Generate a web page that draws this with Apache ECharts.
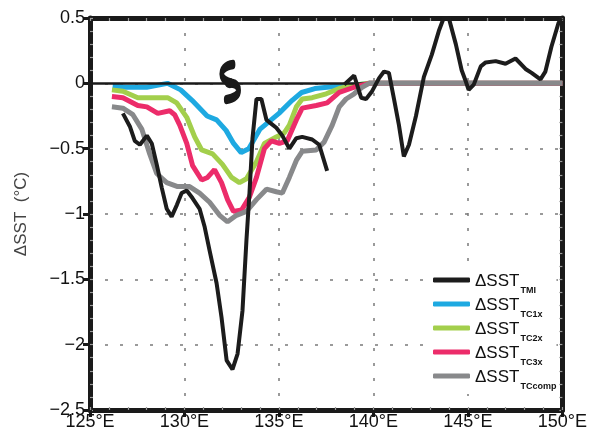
<!DOCTYPE html>
<html>
<head>
<meta charset="utf-8">
<script src="https://cdn.jsdelivr.net/npm/echarts@6/dist/echarts.min.js"></script>
<style>
html,body{margin:0;padding:0;background:#fff;}
#c{width:590px;height:434px;}
</style>
</head>
<body>
<div id="c"></div>
<script>
// ---- data (longitude °E, ΔSST °C) ----
var xTicks = [125, 130, 135, 140, 145, 150];
var yTicks = [-2.5, -2, -1.5, -1, -0.5, 0, 0.5];
var seriesNames = ['TMI', 'TC1x', 'TC2x', 'TC3x', 'TCcomp'];

var tmiLon = [126.74,127.11,127.37,127.64,128.01,128.27,128.53,128.8,129.06,129.32,129.6,129.85,130.12,130.43,130.8,131.07,131.33,131.7,131.96,132.23,132.54,132.81,133.07,133.28,133.44,133.6,133.81,134.07,134.34,134.6,134.86,135.18,135.55,135.92,136.23,136.76,137.13,137.55,
  138.0,
  138.45,138.98,139.35,139.61,139.93,140.3,140.56,140.82,141.09,141.35,141.61,141.88,142.25,142.67,143.09,143.46,143.72,143.99,144.36,144.67,144.9,145.04,145.31,145.68,145.94,146.47,146.99,147.52,148.05,148.37,148.84,149.1,149.42,149.79,149.95];
var tmiVal = [-0.23,-0.33,-0.44,-0.47,-0.40,-0.46,-0.62,-0.80,-0.96,-1.02,-0.93,-0.84,-0.82,-0.88,-0.96,-1.10,-1.28,-1.53,-1.79,-2.12,-2.19,-2.07,-1.74,-1.20,-0.84,-0.42,-0.12,-0.12,-0.28,-0.31,-0.34,-0.40,-0.50,-0.42,-0.41,-0.43,-0.47,-0.67,
  null,
  -0.01,0.06,-0.11,-0.12,-0.06,0.04,0.09,0.08,-0.12,-0.32,-0.56,-0.47,-0.25,0.05,0.22,0.40,0.50,0.50,0.30,0.10,0.01,-0.05,-0.01,0.13,0.16,0.17,0.15,0.19,0.11,0.08,0.03,0.09,0.28,0.46,0.50];

var tc1Lon = [126.2,126.9,128.0,129.1,129.8,130.4,131.2,131.7,132.2,132.6,133.0,133.4,134.0,135.0,135.7,136.2,136.9,138.2,139.2,139.8,150];
var tc1Val = [-0.02,-0.03,-0.03,0.0,-0.05,-0.13,-0.25,-0.28,-0.36,-0.46,-0.53,-0.50,-0.35,-0.23,-0.13,-0.07,-0.04,-0.02,-0.01,0,0];

var tc2Lon = [126.16,126.74,127.53,128.32,129.11,129.59,130.12,130.54,130.91,131.49,132.01,132.49,132.91,133.28,133.81,134.23,134.86,135.28,135.55,135.92,136.23,136.76,137.5,138.19,138.98,139.77,150];
var tc2Val = [-0.05,-0.06,-0.11,-0.11,-0.11,-0.15,-0.26,-0.41,-0.51,-0.54,-0.62,-0.72,-0.76,-0.73,-0.60,-0.46,-0.41,-0.38,-0.32,-0.18,-0.12,-0.11,-0.08,-0.04,-0.015,0,0];

var tc3Lon = [126.16,126.74,127.53,128.01,128.59,129.22,129.48,129.75,130.12,130.43,130.91,131.22,131.59,131.96,132.28,132.59,133.02,133.44,133.81,134.23,134.6,135.02,135.44,135.92,136.23,136.97,137.55,138.19,138.98,139.77,150];
var tc3Val = [-0.10,-0.11,-0.17,-0.18,-0.23,-0.21,-0.24,-0.32,-0.46,-0.63,-0.74,-0.72,-0.66,-0.76,-0.89,-0.98,-0.97,-0.87,-0.72,-0.50,-0.44,-0.46,-0.44,-0.28,-0.19,-0.17,-0.15,-0.07,-0.03,0,0];

var tccLon = [126.16,126.74,127.27,127.74,128.16,128.53,129.06,129.64,130.27,130.8,131.33,131.86,132.28,132.75,133.28,133.81,134.34,134.86,135.18,135.55,135.92,136.23,136.97,137.39,137.82,138.19,138.55,138.98,139.4,139.77,150];
var tccVal = [-0.18,-0.19,-0.24,-0.35,-0.54,-0.69,-0.76,-0.79,-0.79,-0.84,-0.91,-1.01,-1.06,-1.01,-0.98,-0.89,-0.81,-0.83,-0.84,-0.72,-0.59,-0.52,-0.51,-0.45,-0.32,-0.18,-0.12,-0.08,-0.03,0,0];

var stormLon = 132.42, stormVal = 0.01;

// ---- build ----
function pairs(lon, val) {
  return lon.map(function (x, i) { return val[i] === null ? [x, '-'] : [x, val[i]]; });
}
var colors = {TMI:'#1c1c1c', TC1x:'#1ea9e1', TC2x:'#a3cf4c', TC3x:'#ec2c6a', TCcomp:'#88898b'};
var FONT = 'Liberation Sans';
var AX = '#1a1a1a';

function minorAxis(pos, min, max, interval, showLine) {
  return {
    type: 'value', position: pos, min: min, max: max, interval: interval,
    axisLine: {show: showLine, onZero: false, lineStyle: {color: AX, width: 5}},
    axisTick: {show: true, inside: true, length: 3, lineStyle: {color: '#9a9a9a', width: 1.2}},
    axisLabel: {show: false}, splitLine: {show: false}
  };
}

var chart = echarts.init(document.getElementById('c'), null, {renderer: 'canvas'});
var option = {
  animation: false,
  backgroundColor: '#fff',
  grid: {left: 90, right: 26, top: 18, bottom: 24, containLabel: false},
  legend: {
    data: seriesNames, orient: 'vertical', left: 429, top: 270,
    itemWidth: 37, itemHeight: 5, itemGap: 2, icon: 'roundRect',
    backgroundColor: '#fff', padding: [3, 0, 3, 4],
    formatter: function (n) { return '{m|ΔSST}{s|' + n + '}'; },
    textStyle: {
      fontFamily: FONT, color: '#111',
      rich: {
        m: {fontSize: 17, fontFamily: FONT, color: '#111', lineHeight: 20, verticalAlign: 'bottom'},
        s: {fontSize: 9, fontWeight: 'bold', fontFamily: FONT, color: '#111', lineHeight: 20, verticalAlign: 'bottom', padding: [0, 0, -5, 1]}
      }
    }
  },
  xAxis: [
    {
      type: 'value', position: 'bottom', min: xTicks[0], max: xTicks[xTicks.length - 1], interval: 5,
      axisLine: {show: true, onZero: false, lineStyle: {color: AX, width: 5}},
      axisTick: {show: true, length: 7, lineStyle: {color: AX, width: 3}},
      axisLabel: {formatter: '{value}°E', fontSize: 18, color: '#111', margin: 3, fontFamily: FONT},
      splitLine: {show: true, lineStyle: {type: [3, 12], color: '#7a7a7a', width: 1.5}}
    },
    minorAxis('bottom', 125, 150, 1, false),
    minorAxis('top', 125, 150, 1, true)
  ],
  yAxis: [
    {
      type: 'value', position: 'left', min: yTicks[0], max: yTicks[yTicks.length - 1], interval: 0.5,
      axisLine: {show: true, onZero: false, lineStyle: {color: AX, width: 5}},
      axisTick: {show: true, length: 7, lineStyle: {color: AX, width: 3}},
      axisLabel: {fontSize: 18, color: '#111', margin: 5, fontFamily: FONT,
        formatter: function (v) { return v < 0 ? '\u2212' + String(-v) : String(v); }},
      splitLine: {show: true, lineStyle: {type: [3, 12], color: '#7a7a7a', width: 1.5}},
      name: 'ΔSST  (°C)', nameLocation: 'middle', nameGap: 60,
      nameTextStyle: {fontSize: 17, color: '#444', fontFamily: FONT}
    },
    minorAxis('left', -2.5, 0.5, 0.1, false),
    minorAxis('right', -2.5, 0.5, 0.1, true)
  ],
  series: [
    {
      name: 'TMI', type: 'line', z: 7, data: pairs(tmiLon, tmiVal), showSymbol: false, connectNulls: false,
      lineStyle: {color: colors.TMI, width: 4}, itemStyle: {color: colors.TMI},
      markPoint: {
        silent: true, label: {show: false},
        data: [
          {coord: [stormLon, stormVal], symbol: 'path://M12 3 C6 4 3 9 4 14 C5 18 8 20 11 21 C15 22 16 25 16 28 C16 33 12 36 7 37',
           symbolSize: [17, 35], itemStyle: {color: 'transparent', borderColor: '#1a1a1a', borderWidth: 6.5, borderCap: 'round'}},
          {coord: [stormLon - 0.02, stormVal - 0.01], symbol: 'circle', symbolSize: 10, itemStyle: {color: '#1a1a1a'}}
        ]
      }
    },
    {
      name: 'TC1x', type: 'line', z: 3, data: pairs(tc1Lon, tc1Val), showSymbol: false,
      lineStyle: {color: colors.TC1x, width: 5}, itemStyle: {color: colors.TC1x},
      markLine: {silent: true, symbol: 'none', label: {show: false}, lineStyle: {color: '#1a1a1a', width: 2.5, type: 'solid'},
        data: [{yAxis: 0}]}
    },
    {
      name: 'TC2x', type: 'line', z: 4, data: pairs(tc2Lon, tc2Val), showSymbol: false,
      lineStyle: {color: colors.TC2x, width: 5}, itemStyle: {color: colors.TC2x}
    },
    {
      name: 'TC3x', type: 'line', z: 5, data: pairs(tc3Lon, tc3Val), showSymbol: false,
      lineStyle: {color: colors.TC3x, width: 5}, itemStyle: {color: colors.TC3x}
    },
    {
      name: 'TCcomp', type: 'line', z: 6, data: pairs(tccLon, tccVal), showSymbol: false,
      lineStyle: {color: colors.TCcomp, width: 5}, itemStyle: {color: colors.TCcomp}
    }
  ]
};
chart.setOption(option);
</script>
</body>
</html>
